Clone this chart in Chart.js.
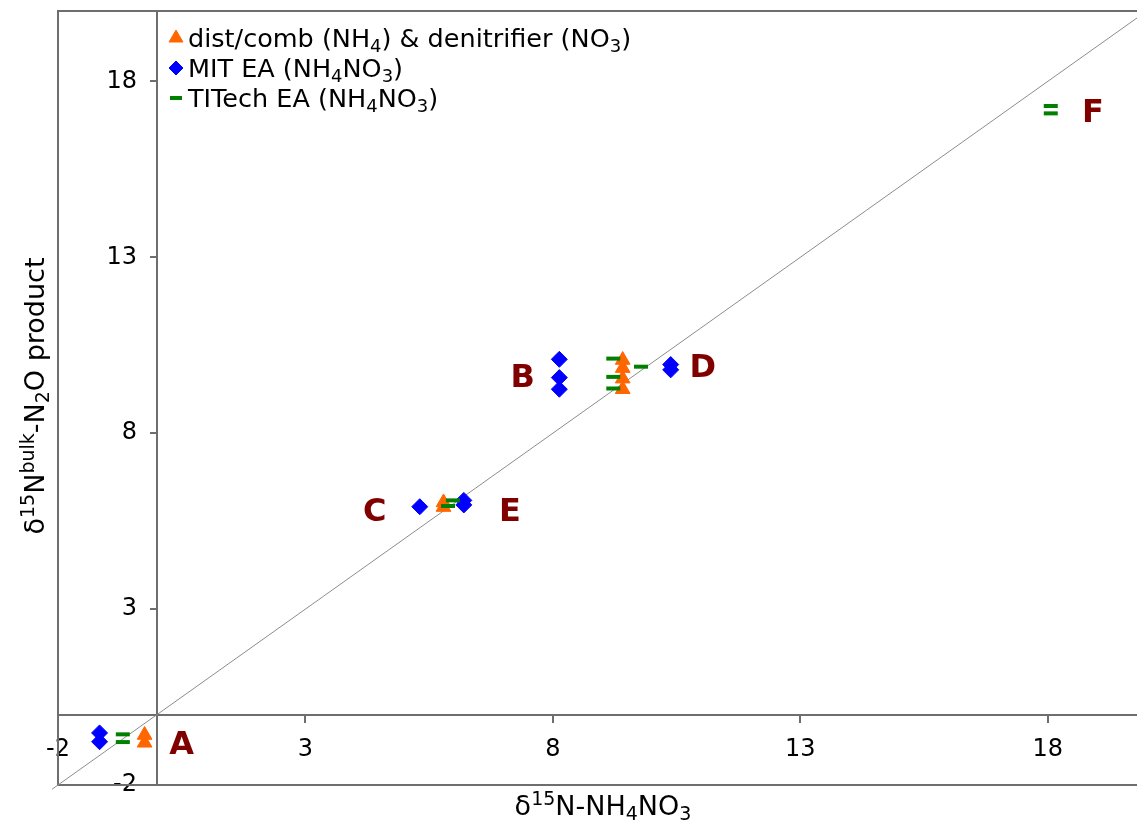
<!DOCTYPE html>
<html>
<head>
<meta charset="utf-8">
<script src="https://cdn.jsdelivr.net/npm/chart.js@4"></script>
<style>
  html, body { margin: 0; padding: 0; background: #fff; }
  canvas { display: block; }
</style>
</head>
<body>
<canvas id="myChart" width="1137" height="820"></canvas>
<script>
// tick labels on both axes
const xTicks = [-2, 3, 8, 13, 18]
const yTicks = [-2, 3, 8, 13, 18]

// dist/comb (NH4) & denitrifier (NO3)
const distX = [-0.25, -0.25, 5.79, 5.79, 9.41, 9.41, 9.41, 9.41]
const distY = [-0.58, -0.80, 6.03, 5.90, 10.08, 9.85, 9.55, 9.25]

// MIT EA (NH4NO3)
const mitX = [-1.16, -1.16, 5.31, 6.20, 6.20, 8.13, 8.13, 8.13, 10.38, 10.38]
const mitY = [-0.52, -0.77, 5.91, 6.09, 5.96, 10.10, 9.58, 9.25, 9.95, 9.80]

// TITech EA (NH4NO3)
const titX = [-0.69, -0.69, 5.98, 5.88, 9.22, 9.22, 9.22, 9.78, 18.06, 18.06]
const titY = [-0.56, -0.78, 6.09, 5.93, 10.12, 9.60, 9.27, 9.89, 17.30, 17.09]

// 1:1 line ends
const oneToOne = [-2.12, 20]

// site letters and where they sit (data units)
const siteNames = ['A', 'B', 'C', 'D', 'E', 'F']
const siteX = [0.50, 7.39, 4.40, 11.03, 7.13, 18.91]
const siteY = [-0.87, 9.55, 5.75, 9.84, 5.75, 17.07]

const FONT = '"DejaVu Sans", Verdana, sans-serif'
const ORANGE = '#ff6600'
const BLUE = '#0000ff'
const GREEN = '#008000'
const AXIS = '#6e6e6e'

function pts(xs, ys) {
    return xs.map((x, i) => ({ x: x, y: ys[i] }))
}

// text with sub/superscript pieces
function richWidth(ctx, parts, size) {
    let w = 0
    for (const p of parts) {
        ctx.font = (p.s ? Math.round(size * 0.7) : size) + 'px ' + FONT
        w += ctx.measureText(p.t).width
    }
    return w
}
function richText(ctx, parts, x, y, size) {
    let cx = x
    ctx.textBaseline = 'alphabetic'
    ctx.textAlign = 'left'
    for (const p of parts) {
        const sz = p.s ? Math.round(size * 0.7) : size
        ctx.font = sz + 'px ' + FONT
        let dy = 0
        if (p.s === 'sup') dy = -size * 0.36
        if (p.s === 'sub') dy = size * 0.2
        ctx.fillText(p.t, cx, y + dy)
        cx += ctx.measureText(p.t).width
    }
}

const xTitle = [{ t: 'δ' }, { t: '15', s: 'sup' }, { t: 'N-NH' }, { t: '4', s: 'sub' }, { t: 'NO' }, { t: '3', s: 'sub' }]
const yTitle = [{ t: 'δ' }, { t: '15', s: 'sup' }, { t: 'N' }, { t: 'bulk', s: 'sup' }, { t: '-N' }, { t: '2', s: 'sub' }, { t: 'O product' }]
const legendRows = [
    { style: 'triangle', r: 8, color: ORANGE, parts: [{ t: 'dist/comb (NH' }, { t: '4', s: 'sub' }, { t: ') & denitrifier (NO' }, { t: '3', s: 'sub' }, { t: ')' }] },
    { style: 'rectRot', r: 7, color: BLUE, parts: [{ t: 'MIT EA (NH' }, { t: '4', s: 'sub' }, { t: 'NO' }, { t: '3', s: 'sub' }, { t: ')' }] },
    { style: 'line', r: 6, color: GREEN, parts: [{ t: 'TITech EA (NH' }, { t: '4', s: 'sub' }, { t: 'NO' }, { t: '3', s: 'sub' }, { t: ')' }] }
]

const framePlugin = {
    id: 'frame',
    afterLayout(chart) {
        // put the y axis on x = 0
        const sy = chart.scales.y
        const x0 = chart.scales.x.getPixelForValue(0)
        sy.right = x0
        sy.left = x0 - 60
        sy.width = 60
    },
    beforeDatasetsDraw(chart) {
        const { ctx, chartArea: a, width } = chart
        const y0 = Math.round(chart.scales.y.getPixelForValue(0))
        ctx.save()
        ctx.strokeStyle = AXIS
        ctx.lineWidth = 2
        ctx.beginPath()
        ctx.moveTo(width, a.top)
        ctx.lineTo(a.left, a.top)
        ctx.lineTo(a.left, a.bottom)
        ctx.lineTo(width, a.bottom)
        // x axis runs on to the page edge
        ctx.moveTo(a.right - 2, y0)
        ctx.lineTo(width, y0)
        ctx.stroke()
        ctx.restore()
    },
    afterDraw(chart) {
        const { ctx } = chart
        const sx = chart.scales.x, sy = chart.scales.y
        ctx.save()
        ctx.fillStyle = '#000'
        // axis titles
        const tsize = 27
        let w = richWidth(ctx, xTitle, tsize)
        richText(ctx, xTitle, 603 - w / 2, 815, tsize)
        ctx.translate(44, 396)
        ctx.rotate(-Math.PI / 2)
        w = richWidth(ctx, yTitle, tsize)
        richText(ctx, yTitle, -w / 2, 0, tsize)
        ctx.setTransform(1, 0, 0, 1, 0, 0)

        // legend
        const lsize = 25.5
        legendRows.forEach((row, i) => {
            const y = 47 + i * 30
            ctx.fillStyle = row.color
            ctx.strokeStyle = row.color
            ctx.lineWidth = row.style === 'line' ? 4 : 1
            Chart.helpers.drawPoint(ctx, {
                pointStyle: row.style, radius: row.r, rotation: 0,
                borderWidth: ctx.lineWidth
            }, 176, y - 9)
            ctx.fillStyle = '#000'
            richText(ctx, row.parts, 188, y, lsize)
        })

        // site letters
        ctx.font = 'bold 32px ' + FONT
        ctx.fillStyle = '#800000'
        ctx.textAlign = 'center'
        ctx.textBaseline = 'middle'
        siteNames.forEach((n, i) => {
            ctx.fillText(n, sx.getPixelForValue(siteX[i]), sy.getPixelForValue(siteY[i]))
        })
        ctx.restore()
    }
}

const noPad = s => {
    s.paddingTop = 0
    s.paddingBottom = 0
    s.paddingLeft = 0
    s.paddingRight = 0
}

const axisBase = {
    type: 'linear',
    grid: { drawOnChartArea: false, drawTicks: true, tickLength: 7, color: AXIS, lineWidth: 2 },
    border: { display: true, color: AXIS, width: 2 },
    ticks: { color: '#000', font: { family: FONT, size: 24 } }
}

const ctx = document.getElementById('myChart').getContext('2d')
const myChart = new Chart(ctx, {
    type: 'scatter',
    data: {
        datasets: [
            {
                label: 'TITech EA (NH4NO3)',
                data: pts(titX, titY),
                pointStyle: 'line',
                pointRadius: 7,
                pointBorderWidth: 4,
                borderColor: GREEN,
                backgroundColor: GREEN,
                order: 0
            },
            {
                label: 'MIT EA (NH4NO3)',
                data: pts(mitX, mitY),
                pointStyle: 'rectRot',
                pointRadius: 8,
                borderWidth: 1,
                borderColor: BLUE,
                backgroundColor: BLUE,
                order: 1
            },
            {
                label: 'dist/comb (NH4) & denitrifier (NO3)',
                data: pts(distX, distY),
                pointStyle: 'triangle',
                pointRadius: 8.5,
                borderWidth: 1,
                borderColor: ORANGE,
                backgroundColor: ORANGE,
                order: 2
            },
            {
                type: 'line',
                label: '1:1',
                data: pts(oneToOne, oneToOne),
                borderColor: '#8c8c8c',
                borderWidth: 1,
                pointRadius: 0,
                clip: false,
                order: 3
            }
        ]
    },
    options: {
        responsive: false,
        animation: false,
        events: [],
        layout: { padding: { left: 58, top: 10, right: 0, bottom: 35 } },
        plugins: {
            legend: { display: false },
            tooltip: { enabled: false }
        },
        scales: {
            x: Object.assign({}, axisBase, {
                min: -2, max: 19.58,
                position: { y: 0 },
                ticks: Object.assign({}, axisBase.ticks, { padding: 14, maxRotation: 0 }),
                afterBuildTicks: s => { s.ticks = xTicks.map(v => ({ value: v })) },
                afterFit: noPad
            }),
            y: Object.assign({}, axisBase, {
                min: -2, max: 20,
                position: 'left',
                ticks: Object.assign({}, axisBase.ticks, { padding: 13 }),
                afterBuildTicks: s => { s.ticks = yTicks.map(v => ({ value: v })) },
                afterFit: s => { noPad(s); s.width = 0 }
            })
        }
    },
    plugins: [framePlugin]
});
</script>
</body>
</html>
